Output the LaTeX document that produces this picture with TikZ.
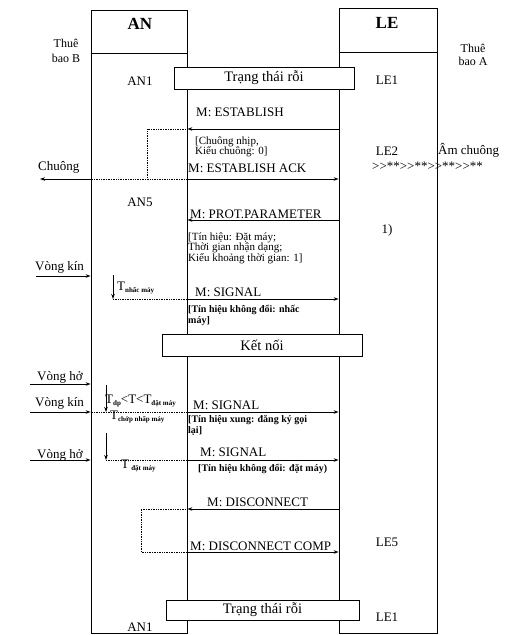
\documentclass[tikz,border=0pt]{standalone}
\usepackage{fontspec}
\setmainfont{Liberation Serif}
\usepackage{tikz}
\usetikzlibrary{arrows.meta, positioning}

\newcommand{\sbs}[1]{\raisebox{-2.5pt}{\fontsize{7}{7}\selectfont\bfseries #1}}

\begin{document}
\begin{tikzpicture}[x=1pt, y=-1pt,
    lbl/.style={font=\fontsize{13}{15}\selectfont, inner sep=0pt},
    head/.style={font=\fontsize{17}{17}\selectfont\bfseries, inner sep=0pt},
    note/.style={font=\fontsize{11}{10.5}\selectfont, align=left, inner sep=0pt, anchor=west},
    noteb/.style={note, font=\fontsize{10}{10.5}\selectfont\bfseries},
    life/.style={draw, line width=0.8pt, inner sep=0pt},
    state/.style={draw, fill=white, line width=0.8pt, inner sep=0pt, font=\fontsize{14.5}{15}\selectfont, minimum height=22pt},
    msg/.style={-{Stealth[length=5pt,width=3.5pt]}, line width=0.8pt},
    loc/.style={densely dotted, line width=0.7pt}]
  \useasboundingbox (0,0) rectangle (515,635);

  % lifelines
  \node[life, minimum width=96pt, minimum height=623pt] (an) at (139,321.5) {};
  \node[life, minimum width=98pt, minimum height=625pt] (le) at (388,320.5) {};
  \coordinate (hdrA) at (0,53);
  \coordinate (hdrL) at (0,52);
  \draw[line width=0.8pt] (an.west |- hdrA) -- (an.east |- hdrA);
  \draw[line width=0.8pt] (le.west |- hdrL) -- (le.east |- hdrL);
  \node[head] (anlbl) at (140,24) {AN};
  \node[head] (lelbl) at (387,23) {LE};
  \node[lbl, font=\fontsize{12}{15}\selectfont, align=center] (thueB) at (66,51) {Thuê\\bao B};
  \node[lbl, font=\fontsize{12}{13}\selectfont, align=center] (thueA) at (473,55) {Thuê\\bao A};

  % states
  \node[lbl] (an1) at (140,81) {AN1};
  \node[lbl] (le1) at (387,80) {LE1};
  \node[state, minimum width=180pt] (idle1) at (264,78) {Trạng thái rỗi};
  \node[lbl] (le2) at (387,151) {LE2};
  \node[lbl] (an5) at (140,202) {AN5};
  \node[lbl] (fn1) at (387,230) {1)};
  \node[state, minimum width=200pt] (ketnoi) at (262,345) {Kết nối};
  \node[lbl] (le5) at (387,542) {LE5};
  \node[state, minimum width=193pt, minimum height=20pt] (idle2) at (262.5,610) {Trạng thái rỗi};
  \node[lbl] (an1b) at (140,627) {AN1};
  \node[lbl] (le1b) at (387,617) {LE1};

  % establish
  \coordinate (ringTop) at (147,129);
  \coordinate (ringBot) at (147,179);
  \coordinate (ringOut) at (40,179);
  \node[lbl, anchor=west] (msgEst) at (196,112) {M: ESTABLISH};
  \node[note] (noteRing) at (195,147) {[Chuông nhịp,\\Kiểu chuông: 0]};
  \node[lbl, anchor=west] (msgEstAck) at (188,168) {M: ESTABLISH ACK};
  \node[lbl, anchor=west] (chuong) at (38,167) {Chuông};
  \node[lbl, anchor=west] (amchuong) at (438,150) {Âm chuông};
  \node[lbl, anchor=west] (ringtone) at (372,166) {>{}>**>{}>**>{}>**>{}>**};
  \draw[msg] (le.west |- ringTop) -- (an.east |- ringTop);
  \draw[loc] (an.east |- ringTop) -- (ringTop) -- (ringBot);
  \draw[loc] (an.west |- ringBot) -- (an.east |- ringBot);
  \draw[msg] (an.west |- ringBot) -- (ringOut);
  \draw[msg] (an.east |- ringBot) -- (le.west |- ringBot);

  % protocol parameter
  \coordinate (prot) at (0,220);
  \node[lbl, anchor=west] (msgProt) at (190,214) {M: PROT.PARAMETER};
  \node[note] (noteProt) at (188,248) {[Tín hiệu: Đặt máy;\\Thời gian nhận dạng;\\Kiểu khoảng thời gian: 1]};
  \draw[msg] (le.west |- prot) -- (an.east |- prot);

  % off hook
  \coordinate (hook1) at (36,276);
  \coordinate (tn1) at (113,275);
  \coordinate (tn2) at (113,299);
  \node[lbl, anchor=west] (vkin1) at (35,267) {Vòng kín};
  \node[lbl, anchor=west] (tnhac) at (117,288) {T\sbs{nhấc máy}};
  \node[lbl, anchor=west] (msgSig1) at (195,292) {M: SIGNAL};
  \node[noteb] (noteSig1) at (188,315.5) {[Tín hiệu không đổi: nhấc\\máy]};
  \draw[msg] (hook1) -- (an.west |- hook1);
  \draw[msg] (tn1) -- (tn2);
  \draw[loc] (tn2) -- (an.east |- tn2);
  \draw[msg] (an.east |- tn2) -- (le.west |- tn2);

  % flash
  \coordinate (open1) at (30,384);
  \coordinate (close2) at (30,412);
  \coordinate (fl1) at (106,385);
  \node[lbl, anchor=west] (vho1) at (37,377) {Vòng hở};
  \node[lbl, anchor=west] (vkin2) at (35,403) {Vòng kín};
  \node[lbl, anchor=west] (tdp) at (105,401) {T\sbs{dp}<T<T\sbs{đặt máy}};
  \node[lbl, anchor=west] (tchop) at (110,417) {T\sbs{chớp nhấp máy}};
  \node[lbl, anchor=west] (msgSig2) at (193,405) {M: SIGNAL};
  \node[noteb] (noteSig2) at (188,425.5) {[Tín hiệu xung: đăng ký gọi\\lại]};
  \draw[msg] (open1) -- (an.west |- open1);
  \draw[msg] (close2) -- (an.west |- close2);
  \draw[msg] (fl1) -- (fl1 |- close2);
  \draw[loc] (an.west |- close2) -- (an.east |- close2);
  \draw[msg] (an.east |- close2) -- (le.west |- close2);

  % on hook
  \coordinate (open2) at (30,460);
  \coordinate (fl2) at (106,433);
  \node[lbl, anchor=west] (vho2) at (37,455) {Vòng hở};
  \node[lbl, anchor=west] (tdat) at (121,466) {T\,\sbs{đặt máy}};
  \node[lbl, anchor=west] (msgSig3) at (200,452) {M: SIGNAL};
  \node[noteb] (noteSig3) at (198,469) {[Tín hiệu không đổi: đặt máy)};
  \draw[msg] (open2) -- (an.west |- open2);
  \draw[msg] (fl2) -- (fl2 |- open2);
  \draw[loc] (fl2 |- open2) -- (an.east |- open2);
  \draw[msg] (an.east |- open2) -- (le.west |- open2);

  % disconnect
  \coordinate (dTop) at (141,509);
  \coordinate (dBot) at (141,552);
  \node[lbl, anchor=west] (msgDisc) at (207,502) {M: DISCONNECT};
  \node[lbl, anchor=west] (msgDiscC) at (190,546) {M: DISCONNECT COMP};
  \draw[msg] (le.west |- dTop) -- (an.east |- dTop);
  \draw[loc] (an.east |- dTop) -- (dTop) -- (dBot) -- (an.east |- dBot);
  \draw[msg] (an.east |- dBot) -- (le.west |- dBot);
\end{tikzpicture}
\end{document}
